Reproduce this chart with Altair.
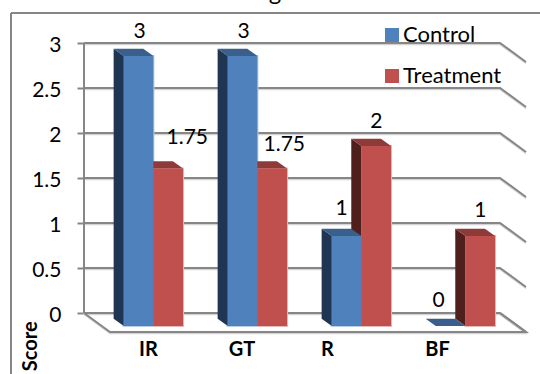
import altair as alt
import pandas as pd

categories = ["IR", "GT", "R", "BF"]
control = [3, 3, 1, 0]
treatment = [1.75, 1.75, 2, 1]
value_labels = [["3", "3", "1", "0"], ["1.75", "1.75", "2", "1"]]
tick_values = [0, 0.5, 1, 1.5, 2, 2.5, 3]
series_names = ["Control", "Treatment"]

# Oblique projection: one category slot is 104 px wide, one score unit is 90 px tall.
PX_X, PX_Y = 104.0, 90.0
DEPTH_X, DEPTH_Y = 26 / PX_X, 19 / PX_Y
BAR_BACK, BAR_FRONT = 0.30, 0.69
SLOT_GAP, BAR_W = 0.21, 0.285
FONT = "Lato"
GRID = "#868686"
LABEL_SIZE = 21


def project(x, score, depth=0.0):
    return x + depth * DEPTH_X, score - depth * DEPTH_Y


x_scale = alt.Scale(domain=[0, 4.25], nice=False, zero=False)
y_scale = alt.Scale(domain=[-DEPTH_Y, 3], nice=False, zero=False)
X = lambda f="x": alt.X(f"{f}:Q", scale=x_scale, axis=None)
Y = lambda f="y": alt.Y(f"{f}:Q", scale=y_scale, axis=None)

# Walls and floor of the box
wall_rows = []
for v in tick_values:
    for k, (cx, depth) in enumerate([(0, 0), (4, 0), (4, 1)]):
        px, py = project(cx, v, depth)
        wall_rows.append({"line": f"g{v}", "k": k, "x": px, "y": py})
for k, (cx, depth) in enumerate([(0, 0), (0, 1), (4, 1), (4, 0)]):
    px, py = project(cx, 0, depth)
    wall_rows.append({"line": "floor", "k": k, "x": px, "y": py})
for k, v in enumerate([0, 3]):
    wall_rows.append({"line": "wall", "k": k, "x": 0, "y": v})
walls_df = pd.DataFrame(wall_rows)

shadow = alt.Chart(walls_df).mark_line(color="#D4D4D4", strokeWidth=1.5, yOffset=1.5).encode(
    x=X(), y=Y(), detail="line:N", order="k:Q"
)
walls = alt.Chart(walls_df).mark_line(color=GRID, strokeWidth=2).encode(
    x=X(), y=Y(), detail="line:N", order="k:Q"
)

# Bar faces, projected from the score values
side_rows, top_rows, front_rows = [], [], []
for s, values in enumerate([control, treatment]):
    for i, v in enumerate(values):
        left = i + SLOT_GAP + s * BAR_W
        right = left + BAR_W
        bar = f"{s}-{i}"
        xb, yb_top = project(left, v, BAR_BACK)
        xf, yf_top = project(left, v, BAR_FRONT)
        _, yb_base = project(left, 0, BAR_BACK)
        _, yf_base = project(left, 0, BAR_FRONT)
        xbr, _ = project(right, v, BAR_BACK)
        xfr, _ = project(right, v, BAR_FRONT)
        row = {"bar": bar, "series": series_names[s], "s": s}
        side_rows.append({**row, "x": xb, "y": yb_top, "y2": yb_base})
        side_rows.append({**row, "x": xf, "y": yf_top, "y2": yf_base})
        for px, top, bottom in [
            (xb, yb_top, yb_top),
            (xf, yb_top, yf_top),
            (xbr, yb_top, yf_top),
            (xfr, yf_top, yf_top),
        ]:
            top_rows.append({**row, "x": px, "y": top, "y2": bottom})
        front_rows.append({**row, "x": xf, "x2": xfr, "y": yf_top, "y2": yf_base})

sides_df = pd.DataFrame(side_rows).sort_values("s", ascending=False, kind="stable")
tops_df = pd.DataFrame(top_rows)
fronts_df = pd.DataFrame(front_rows)

side_colors = alt.Scale(domain=series_names, range=["#1F3552", "#4F1F1E"])
top_colors = alt.Scale(domain=series_names, range=["#3A5F8C", "#8E3A38"])
front_colors = alt.Scale(domain=series_names, range=["#4F81BD", "#C0504D"])
glow_colors = alt.Scale(domain=series_names, range=["#B9CDE5", "#E6B9B8"])

# Pale rim around the front faces, painted below the solid faces
glow = alt.Chart(fronts_df[fronts_df["y"] != fronts_df["y2"]]).mark_rect(
    fillOpacity=0, strokeWidth=2
).encode(
    x=X(), x2="x2:Q", y=Y(), y2="y2:Q",
    stroke=alt.Stroke("series:N", scale=glow_colors, legend=None),
)
sides = alt.Chart(sides_df).mark_area(interpolate="linear").encode(
    x=X(), y=Y(), y2="y2:Q", detail="bar:N",
    color=alt.Color("series:N", scale=side_colors, legend=None),
)
tops = alt.Chart(tops_df).mark_area(interpolate="linear").encode(
    x=X(), y=Y(), y2="y2:Q", detail="bar:N",
    color=alt.Color("series:N", scale=top_colors, legend=None),
)
fronts = alt.Chart(fronts_df).mark_rect().encode(
    x=X(), x2="x2:Q", y=Y(), y2="y2:Q",
    color=alt.Color(
        "series:N",
        scale=front_colors,
        legend=alt.Legend(
            title=None,
            orient="none",
            legendX=297,
            legendY=-19,
            symbolType="square",
            symbolSize=196,
            symbolStrokeWidth=0,
            labelFont=FONT,
            labelFontSize=22,
            labelColor="#000000",
            labelOffset=0,
            rowPadding=19,
        ),
    ),
)

# Value labels sit near the top of each bar, nudged by hand in pixels
label_nudges = [[(1, -24), (1, -24), (-5, -27), (-12, -25)], [(19, -31), (12, -24), (0, -24), (0, -25)]]
label_rows = []
for s, values in enumerate([control, treatment]):
    for i, v in enumerate(values):
        left = i + SLOT_GAP + s * BAR_W
        cx, cy = project(left + BAR_W / 2, v, BAR_FRONT)
        dx, dy = label_nudges[s][i]
        label_rows.append({"x": cx + dx / PX_X, "y": cy - dy / PX_Y, "t": value_labels[s][i]})
value_text = alt.Chart(pd.DataFrame(label_rows)).mark_text(
    font=FONT, fontSize=LABEL_SIZE, color="#000000", baseline="middle"
).encode(x=X(), y=Y(), text="t:N")

# Category names under the floor
cat_x = [0.62, 1.52, 2.34, 3.40]
cat_df = pd.DataFrame({"x": cat_x, "y": [-0.41] * 4, "t": categories})
cat_text = alt.Chart(cat_df).mark_text(
    font=FONT, fontSize=20, fontWeight="bold", color="#000000", baseline="middle"
).encode(x=X(), y=Y(), text="t:N")

score_title = alt.Chart(pd.DataFrame({"x": [-0.51], "y": [-0.37], "t": ["Score"]})).mark_text(
    font=FONT, fontSize=20, fontWeight="bold", color="#000000", baseline="middle", angle=270
).encode(x=X(), y=Y(), text="t:N")

# Tail of the title, which runs off the top edge
title_tail = alt.Chart(pd.DataFrame({"x": [1.837], "y": [3.478], "t": ["g"]})).mark_text(
    font=FONT, fontSize=24, color="#000000", baseline="alphabetic"
).encode(x=X(), y=Y(), text="t:N")

# Scale-bearing layer that draws the score axis
axis_layer = alt.Chart(pd.DataFrame({"y": tick_values})).mark_point(opacity=0).encode(
    y=alt.Y(
        "y:Q",
        scale=y_scale,
        axis=alt.Axis(
            values=tick_values,
            title=None,
            format="~g",
            domain=False,
            grid=False,
            ticks=True,
            tickSize=7,
            tickWidth=2,
            tickColor=GRID,
            labelFont=FONT,
            labelFontSize=LABEL_SIZE,
            labelColor="#000000",
            labelPadding=16,
            labelOffset=2,
        ),
    )
)

# Chart frame, running off the right and bottom edges
frame_top = alt.Chart(pd.DataFrame({"a": [0]})).mark_rule(color=GRID, strokeWidth=2).encode(
    x=alt.value(-73), x2=alt.value(456), y=alt.value(-30)
)
frame_left = alt.Chart(pd.DataFrame({"a": [0]})).mark_rule(color=GRID, strokeWidth=2).encode(
    x=alt.value(-73), y=alt.value(-30), y2=alt.value(331)
)

chart = (
    alt.layer(
        frame_top, frame_left, axis_layer, shadow, walls, glow,
        sides, tops, fronts, value_text, cat_text, score_title, title_tail,
    )
    .resolve_scale(color="independent", stroke="independent")
    .resolve_axis(y="independent")
    .properties(
        width=442,
        height=289,
        autosize=alt.AutoSizeParams(type="none"),
        padding={"left": 84, "top": 43, "right": 14, "bottom": 42},
        background="#FFFFFF",
    )
    .configure_view(stroke=None)
)

chart.save("out.html", embed_options={"renderer": "svg", "actions": False})
